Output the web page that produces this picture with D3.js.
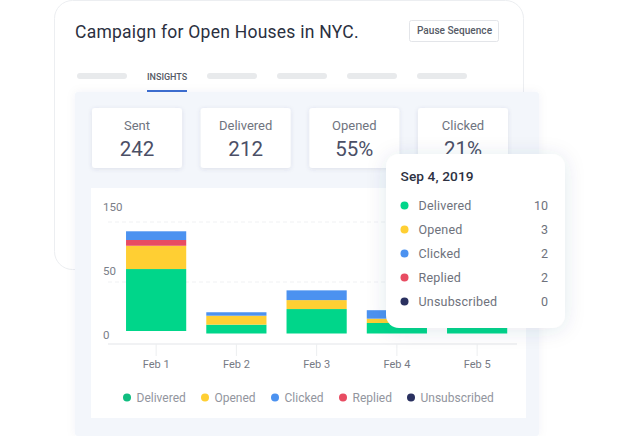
<!DOCTYPE html>
<html>
<head>
<meta charset="utf-8">
<script src="https://cdn.jsdelivr.net/npm/d3@7"></script>
<style>
html, body { margin: 0; background: #fff; }
svg { display: block; font-family: Roboto, sans-serif; }
.domain { display: none; }
</style>
</head>
<body>
<svg id="canvas" width="620" height="436"></svg>
<script>
// Data
const days = ['Feb 1', 'Feb 2', 'Feb 3', 'Feb 4', 'Feb 5']
const delivered = [48.4, 6.9, 19.1, 8.2, 8]
const opened = [18.2, 7, 7, 3.4, 3]
const replied = [4.5, 0, 0, 0, 0]
const clicked = [6.8, 2.7, 7.6, 6.6, 2]
const yLabels = [0, 50, 150]

const legendNames = ['Delivered', 'Opened', 'Clicked', 'Replied', 'Unsubscribed']
const tooltipValues = [10, 3, 2, 2, 0]
const tooltipDate = 'Sep 4, 2019'

const statNames = ['Sent', 'Delivered', 'Opened', 'Clicked']
const statValues = ['242', '212', '55%', '21%']

const colors = { Delivered: '#00d68a', Opened: '#ffcf33', Clicked: '#4c92f0', Replied: '#e84c62', Unsubscribed: '#2a3160' }
const dotColors = { ...colors, Delivered: '#10bd80' }

const svg = d3.select('#canvas')

const defs = svg.append('defs')
function shadow(id, dy, blur, opacity) {
    const f = defs.append('filter').attr('id', id)
        .attr('x', '-20%').attr('y', '-20%').attr('width', '140%').attr('height', '140%')
    f.append('feDropShadow').attr('dx', 0).attr('dy', dy)
        .attr('stdDeviation', blur).attr('flood-color', '#3c4a70').attr('flood-opacity', opacity)
}
shadow('cardShadow', 1, 2, 0.13)
shadow('tipShadow', 2, 10, 0.12)
shadow('panelShadow', 0, 5, 0.05)

// Outer card
svg.append('rect').attr('x', 54.5).attr('y', 0.5).attr('width', 469).attr('height', 269).attr('rx', 18)
    .attr('fill', '#fff').attr('stroke', '#eceef1')

svg.append('text').attr('x', 75).attr('y', 38)
    .attr('font-size', 17.5).attr('letter-spacing', 0.25).attr('fill', '#2b3040')
    .text('Campaign for Open Houses in NYC.')

svg.append('rect').attr('x', 409.5).attr('y', 20.5).attr('width', 89).attr('height', 21).attr('rx', 2)
    .attr('fill', '#fff').attr('stroke', '#e3e5e9')
svg.append('text').attr('x', 454.5).attr('y', 34)
    .attr('text-anchor', 'middle')
    .attr('font-size', 10.1).attr('font-weight', 500).attr('fill', '#555a66')
    .text('Pause Sequence')

// Tabs
const pillStarts = [77, 207, 277, 347, 417]
svg.selectAll('.pill').data(pillStarts).join('rect').classed('pill', true)
    .attr('x', d => d).attr('y', 73).attr('width', 50).attr('height', 6).attr('rx', 3)
    .attr('fill', '#e8eaec')
svg.append('text').attr('x', 147).attr('y', 79.5)
    .attr('font-size', 9).attr('font-weight', 500).attr('fill', '#555a66')
    .text('INSIGHTS')
svg.append('rect').attr('x', 147).attr('y', 90).attr('width', 40).attr('height', 2).attr('fill', '#3d6fd0')

// Pale panel behind the stats and the chart
svg.append('rect').attr('x', 75).attr('y', 92).attr('width', 464).attr('height', 344).attr('rx', 3)
    .attr('fill', '#f3f6fb').attr('filter', 'url(#panelShadow)')

// Stat cards
const statX = d3.scaleBand().domain(statNames).range([92, 508]).paddingInner(0.172)
const stat = svg.selectAll('.stat').data(statNames).join('g').classed('stat', true)
    .attr('transform', d => `translate(${statX(d)},108)`)
stat.append('rect').attr('width', statX.bandwidth()).attr('height', 60).attr('rx', 3)
    .attr('fill', '#fff').attr('filter', 'url(#cardShadow)')
stat.append('text').attr('x', statX.bandwidth() / 2).attr('y', 22).attr('text-anchor', 'middle')
    .attr('font-size', 13).attr('fill', '#6f7480').text(d => d)
stat.append('text').attr('x', statX.bandwidth() / 2).attr('y', 48).attr('text-anchor', 'middle')
    .attr('font-size', 20.5).attr('fill', '#4b4f66')
    .text((d, i) => statValues[i])

// Chart area
svg.append('rect').attr('x', 91).attr('y', 188).attr('width', 435).attr('height', 230).attr('fill', '#fff')

const x = d3.scaleBand().domain(days).range([116, 517.25]).paddingInner(0.25).paddingOuter(0.125)
const y = d3.scaleLinear().domain([0, 50]).range([333.5, 269.5])
const yTicks = d3.scalePoint().domain(yLabels).range([335, 207])

// Dashed guides
svg.selectAll('.guide').data([222, 282]).join('line').classed('guide', true)
    .attr('x1', 108).attr('x2', 517).attr('y1', d => d).attr('y2', d => d)
    .attr('stroke', '#f0f1f3').attr('stroke-dasharray', '4 3')

const yAxis = svg.append('g').attr('transform', 'translate(103,0)')
    .call(d3.axisRight(yTicks).tickSize(0).tickPadding(0))
yAxis.selectAll('text').attr('font-size', 11.5).attr('font-family', 'Roboto').attr('fill', '#7a7e88')

svg.append('line').attr('x1', 108).attr('x2', 517).attr('y1', 344).attr('y2', 344)
    .attr('stroke', '#eceef0').attr('stroke-width', 1.5)
const xAxis = svg.append('g').attr('transform', 'translate(0,344)')
    .call(d3.axisBottom(x).tickSize(12).tickPadding(4))
xAxis.selectAll('line').attr('stroke', '#eceef0')
xAxis.selectAll('text').attr('font-size', 11).attr('font-family', 'Roboto').attr('fill', '#767a84')

// Stacked bars, bottom to top: green, yellow, red, blue
const rows = days.map((day, i) => ({ day, Delivered: delivered[i], Opened: opened[i], Replied: replied[i], Clicked: clicked[i] }))
const stacked = d3.stack().keys(['Delivered', 'Opened', 'Replied', 'Clicked'])(rows)
svg.append('g').selectAll('g').data(stacked).join('g')
    .attr('fill', s => colors[s.key])
    .selectAll('rect').data(s => s).join('rect')
    .attr('x', d => x(d.data.day))
    .attr('width', x.bandwidth())
    .attr('y', d => y(d[1]))
    .attr('height', d => y(d[0]) - y(d[1]))
    // the first bar sits a little higher in the picture
    .attr('transform', d => d.data.day === days[0] ? 'translate(0,-2.5)' : null)

// Legend
const legendX = [127, 205, 275, 343, 411]
const legend = svg.selectAll('.legend').data(legendNames).join('g').classed('legend', true)
    .attr('transform', (d, i) => `translate(${legendX[i]},397.5)`)
legend.append('circle').attr('r', 4).attr('fill', d => dotColors[d])
legend.append('text').attr('x', 9.5).attr('y', 4.5)
    .attr('font-size', 12).attr('fill', '#92959e').text(d => d)

// Tooltip
const tip = svg.append('g').attr('transform', 'translate(386,154)')
tip.append('rect').attr('width', 179).attr('height', 174).attr('rx', 13)
    .attr('fill', '#fff').attr('filter', 'url(#tipShadow)')
tip.append('text').attr('x', 14.5).attr('y', 27)
    .attr('font-size', 13.7).attr('font-weight', 500).attr('letter-spacing', 0.1).attr('fill', '#2d3142')
    .text(tooltipDate)
const tipRow = tip.selectAll('.row').data(legendNames).join('g').classed('row', true)
    .attr('transform', (d, i) => `translate(0,${51.5 + i * 24})`)
tipRow.append('circle').attr('cx', 18.5).attr('r', 4).attr('fill', d => colors[d])
tipRow.append('text').attr('x', 32.5).attr('y', 4.5)
    .attr('font-size', 12.5).attr('letter-spacing', 0.2).attr('fill', '#6e727c').text(d => d)
tipRow.append('text').attr('x', 162).attr('y', 4.5).attr('text-anchor', 'end')
    .attr('font-size', 12.5).attr('fill', '#6e727c').text((d, i) => tooltipValues[i])
</script>
</body>
</html>
